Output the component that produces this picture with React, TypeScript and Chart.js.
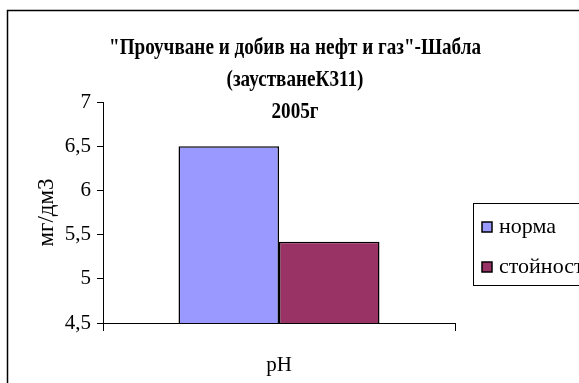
import React, { useEffect, useRef } from 'react';
import { Chart, registerables } from 'chart.js';

Chart.register(...registerables);

const categories = ['pH'];
const seriesNames = ['норма', 'стойност'];
const normaValues = [6.5];
const stoinostValues = [5.42];
const seriesColors = ['#9999FF', '#993366'];
const titleLines = ['"Проучване и добив на нефт и газ"-Шабла', '(заустванеК311)', '2005г'];
const yAxisTitle = 'мг/дм3';
const yMin = 4.5;
const yMax = 7;
const yStep = 0.5;

const SERIF = '"Liberation Serif", "Times New Roman", serif';

const framePlugin = {
  id: 'frame',
  beforeDraw(chart: any) {
    const ctx = chart.ctx;
    ctx.save();
    ctx.fillStyle = '#fff';
    ctx.fillRect(0, 0, chart.width, chart.height);
    ctx.strokeStyle = '#000';
    ctx.lineWidth = 1.5;
    ctx.strokeRect(7.5, 10.5, chart.width + 50, chart.height + 50);
    ctx.restore();
  },
};

const titlePlugin = {
  id: 'customTitle',
  afterDraw(chart: any) {
    const ctx = chart.ctx;
    ctx.save();
    ctx.font = `bold 24px ${SERIF}`;
    ctx.fillStyle = '#000';
    ctx.textAlign = 'center';
    ctx.textBaseline = 'alphabetic';
    const w1 = ctx.measureText(titleLines[0]).width;
    const s = 372 / w1;
    const baselines = [54, 86, 118];
    titleLines.forEach((line, i) => {
      ctx.save();
      ctx.translate(295, baselines[i]);
      ctx.scale(s, 1);
      ctx.fillText(line, 0, 0);
      ctx.restore();
    });
    ctx.restore();
  },
};

const legendPlugin = {
  id: 'customLegend',
  afterDraw(chart: any) {
    const ctx = chart.ctx;
    ctx.save();
    ctx.strokeStyle = '#000';
    ctx.lineWidth = 1;
    ctx.strokeRect(473.5, 203.5, 200, 82);
    ctx.font = `22px ${SERIF}`;
    ctx.textBaseline = 'middle';
    ctx.textAlign = 'left';
    const ys = [227, 267];
    chart.data.datasets.forEach((ds: any, i: number) => {
      const y = ys[i];
      ctx.fillStyle = ds.backgroundColor;
      ctx.fillRect(482, y - 5, 10, 10);
      ctx.lineWidth = 1.5;
      ctx.strokeStyle = '#000';
      ctx.strokeRect(482, y - 5, 10, 10);
      ctx.fillStyle = '#000';
      ctx.fillText(ds.label, 499, y);
    });
    ctx.restore();
  },
};

export default function App() {
  const ref = useRef<HTMLCanvasElement | null>(null);
  useEffect(() => {
    if (!ref.current) return;
    const chart = new Chart(ref.current, {
      type: 'bar',
      data: {
        labels: categories,
        datasets: [
          {
            label: seriesNames[0],
            data: normaValues,
            backgroundColor: seriesColors[0],
            borderColor: '#000',
            borderWidth: 1.5,
            categoryPercentage: 0.571,
            barPercentage: 1,
          },
          {
            label: seriesNames[1],
            data: stoinostValues,
            backgroundColor: seriesColors[1],
            borderColor: '#000',
            borderWidth: 1.5,
            categoryPercentage: 0.571,
            barPercentage: 1,
          },
        ],
      },
      options: {
        animation: false,
        responsive: false,
        devicePixelRatio: 1,
        layout: { padding: { left: 0, top: 102, right: 124, bottom: 0 } },
        plugins: {
          legend: { display: false },
          title: { display: false },
          tooltip: { enabled: false },
        },
        scales: {
          x: {
            grid: {
              display: true,
              drawOnChartArea: false,
              drawTicks: true,
              tickLength: 8,
              color: '#000',
              offset: true,
            },
            border: { display: true, color: '#000', width: 1 },
            ticks: { font: { family: SERIF, size: 21 }, color: '#000', padding: 22 },
            afterFit: (s: any) => {
              s.height = 60;
            },
          },
          y: {
            min: yMin,
            max: yMax,
            ticks: {
              stepSize: yStep,
              callback: (v: any) => String(v).replace('.', ','),
              font: { family: SERIF, size: 21 },
              color: '#000',
              padding: 6,
            },
            grid: { drawOnChartArea: false, drawTicks: true, tickLength: 6, color: '#000' },
            border: { display: true, color: '#000', width: 1 },
            title: {
              display: true,
              text: yAxisTitle,
              font: { family: SERIF, size: 23 },
              color: '#000',
              padding: { top: 33, bottom: 0 },
            },
            afterFit: (s: any) => {
              s.width = 103;
            },
          },
        },
      },
      plugins: [framePlugin, titlePlugin, legendPlugin],
    } as any);
    return () => chart.destroy();
  }, []);
  return (
    <div style={{ position: 'fixed', left: 0, top: 0, width: 579, height: 383, overflow: 'hidden' }}>
      <canvas ref={ref} width={579} height={383} style={{ display: 'block', width: 579, height: 383 }} />
    </div>
  );
}
